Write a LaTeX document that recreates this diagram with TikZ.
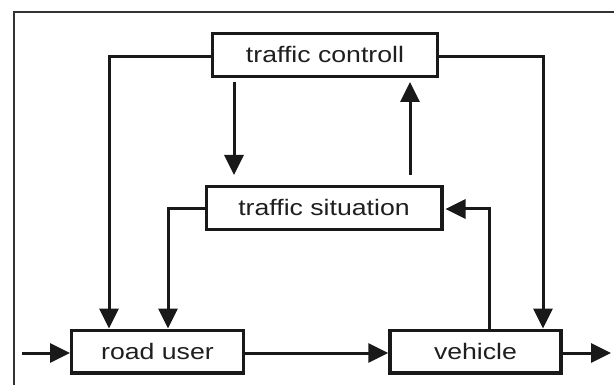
\documentclass[tikz,border=0pt]{standalone}
\usepackage{fontspec}
\usepackage{graphicx}
\setmainfont{Liberation Sans}
\usetikzlibrary{arrows.meta}
\newcommand\hstretch[1]{\scalebox{1.19}[1]{#1}}
\begin{document}
\begin{tikzpicture}[x=1pt,y=-1pt,
  blk/.style={draw=black!90, line width=3.3pt, fill=white, inner sep=0pt,
    minimum height=42.7pt, text=black!88,
    font=\fontsize{22.4}{26}\selectfont, text height=16pt, text depth=0pt},
  conn/.style={draw=black!90, line width=3pt},
  arr/.style={conn, -{Triangle[length=20pt,width=19pt]}},
  frame/.style={draw=black!80, line width=1.2pt}
]
\useasboundingbox (0,0) rectangle (614,385);
\draw[frame] (14,385) -- (14,12) -- (614,12);

\node[blk, minimum width=224.7pt] (tc) at (325,55) {\hstretch{traffic controll}};
\node[blk, minimum width=235.7pt] (ts) at (324,208) {\hstretch{traffic situation}};
\node[blk, minimum width=171.7pt] (ru) at (157.5,351.5) {\hstretch{road user}};
\node[blk, minimum width=171pt] (ve) at (475.5,351.5) {\hstretch{vehicle}};

\coordinate (in) at (22,353);
\coordinate (out) at (611,353);
\coordinate (lx) at (109,57);
\coordinate (rx) at (543,57);
\coordinate (dnx) at (234,0);
\coordinate (upx) at (410,0);
\coordinate (slx) at (168,209);
\coordinate (vux) at (489,209);

% main line
\draw[arr] (in) -- (ru.west |- in);
\draw[arr] (ru.east |- in) -- (ve.west |- in);
\draw[arr] (ve.east |- in) -- (out);

% traffic controll to road user and vehicle
\draw[arr] (tc.west |- lx) -- (lx) -- (lx |- ru.north);
\draw[arr] (tc.east |- rx) -- (rx) -- (rx |- ve.north);

% traffic controll <-> traffic situation
\draw[arr, shorten <=4pt, shorten >=10pt] (tc.south -| dnx) -- (ts.north -| dnx);
\draw[arr, shorten <=10pt, shorten >=4pt] (ts.north -| upx) -- (tc.south -| upx);

% traffic situation to road user
\draw[arr] (ts.west |- slx) -- (slx) -- (slx |- ru.north);

% vehicle to traffic situation
\draw[arr, shorten >=2pt] (ve.north -| vux) -- (vux) -- (ts.east |- vux);
\end{tikzpicture}
\end{document}
